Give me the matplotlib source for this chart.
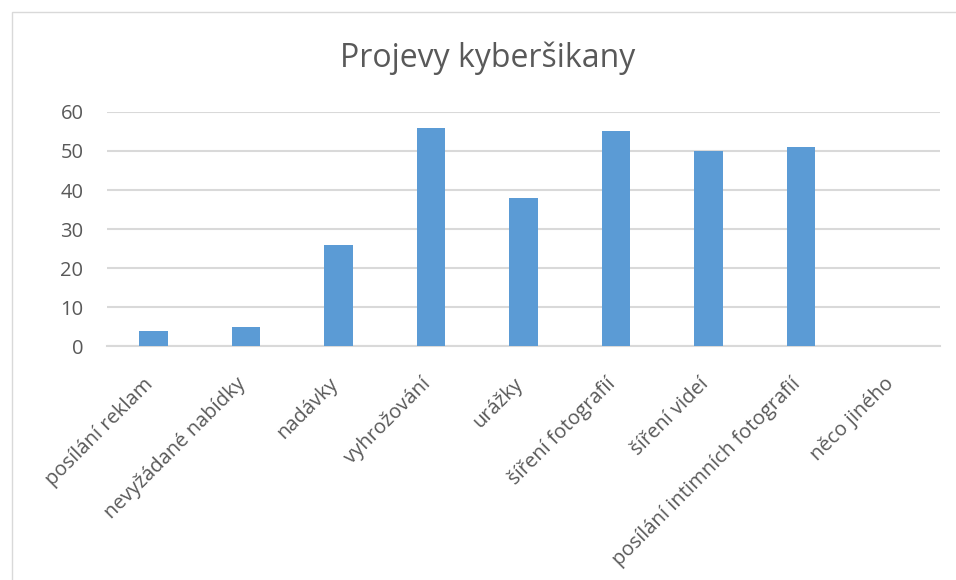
import matplotlib.pyplot as plt
import matplotlib.transforms as mtrans
import numpy as np
from matplotlib.patches import Rectangle

categories = ['posílání reklam', 'nevyžádané nabídky', 'nadávky', 'vyhrožování',
              'urážky', 'šíření fotografií', 'šíření videí',
              'posílání intimních fotografií', 'něco jiného']
values = [4, 5, 26, 56, 38, 55, 50, 51, 0]
yticks = [0, 10, 20, 30, 40, 50, 60]

plt.rcParams['font.family'] = ['Open Sans', 'DejaVu Sans']
text_col = '#595959'

fig = plt.figure(figsize=(9.56, 5.8), dpi=100)
# chart border (cropped on right and bottom)
fig.patches.append(Rectangle((12 / 956, -0.1), 1.1, 1 - 12 / 580 + 0.1,
                             transform=fig.transFigure, fill=False,
                             edgecolor='#d9d9d9', linewidth=1))

ax = fig.add_axes([0.112, 0.403, 0.871, 0.404])
x = np.arange(len(categories))
ax.bar(x, values, width=0.31, color='#5b9bd5', zorder=3)

ax.set_xlim(-0.5, len(categories) - 0.5)
ax.set_ylim(0, 60)
ax.set_yticks(yticks)
ax.yaxis.grid(True, color='#d9d9d9', linewidth=1.5, zorder=0)
for s in ['top', 'right', 'left']:
    ax.spines[s].set_visible(False)
ax.spines['bottom'].set_color('#d9d9d9')
ax.spines['bottom'].set_linewidth(1.5)
ax.tick_params(axis='both', length=0, colors=text_col, labelsize=14.5)
ax.tick_params(axis='y', pad=17)

ax.set_xticks(x)
ax.set_xticklabels(categories, rotation=45, ha='right', va='top',
                   rotation_mode='anchor', color=text_col, fontsize=14.5)
shift = mtrans.ScaledTranslation(-0.10, -0.23, fig.dpi_scale_trans)
for lbl in ax.get_xticklabels():
    lbl.set_transform(lbl.get_transform() + shift)

fig.text(488 / 956, 1 - 58 / 580, 'Projevy kyberšikany', ha='center', va='center',
         fontsize=23, color=text_col)

fig.savefig('out.png', dpi=100)
